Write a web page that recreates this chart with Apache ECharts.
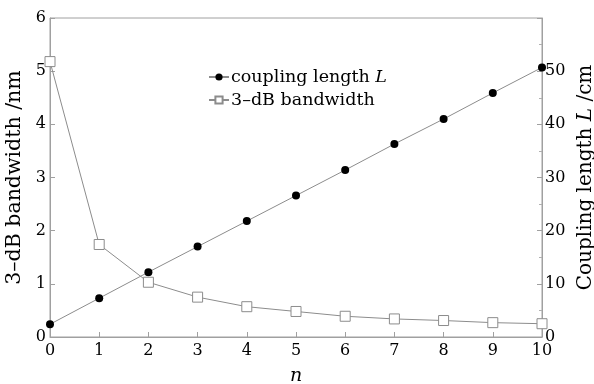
<!DOCTYPE html>
<html>
<head>
<meta charset="utf-8">
<script src="https://cdn.jsdelivr.net/npm/echarts@6/dist/echarts.min.js"></script>
<style>
  html, body { margin: 0; padding: 0; background: #fff; }
  #chart { width: 594px; height: 384px; }
</style>
</head>
<body>
<div id="chart"></div>
<script>
var nValues = [0, 1, 2, 3, 4, 5, 6, 7, 8, 9, 10];
var couplingLength = [2.4, 7.3, 12.2, 17.0, 21.8, 26.6, 31.4, 36.3, 41.0, 45.9, 50.7];
var bandwidth = [5.18, 1.74, 1.03, 0.75, 0.57, 0.48, 0.39, 0.34, 0.31, 0.27, 0.25];

var serif = 'DejaVu Serif';
var gray = '#8c8c8c';

function pairs(ys) {
    return nValues.map(function (x, i) { return [x, ys[i]]; });
}

var chart = echarts.init(document.getElementById('chart'));
var option = {
    animation: false,
    textStyle: { fontFamily: serif, color: '#000' },
    grid: {
        left: 50, right: 52, top: 18, bottom: 47,
        outerBoundsMode: 'none',
        show: true, borderColor: '#a0a0a0', borderWidth: 1
    },
    legend: {
        left: 203, top: 63,
        orient: 'vertical',
        itemWidth: 20, itemHeight: 9, itemGap: 5,
        textStyle: {
            fontFamily: serif, fontSize: 17.5, color: '#000', padding: [0, 0, 0, -3],
            rich: { i: { fontFamily: serif, fontSize: 17.5, fontStyle: 'italic' } }
        },
        formatter: function (name) {
            return name === 'coupling length L' ? 'coupling length {i|L}' : name;
        },
        data: ['coupling length L', '3–dB bandwidth']
    },
    xAxis: {
        type: 'value', min: 0, max: 10, interval: 1,
        name: 'n', nameLocation: 'middle', nameGap: 30,
        nameTextStyle: { fontFamily: serif, fontSize: 19, fontStyle: 'italic', color: '#000' },
        axisLine: { lineStyle: { color: '#a0a0a0' } },
        axisTick: { inside: true, length: 5, lineStyle: { color: '#a0a0a0' } },
        axisLabel: { fontFamily: serif, fontSize: 16, color: '#000', margin: 6 },
        splitLine: { show: false }
    },
    yAxis: [
        {
            type: 'value', min: 0, max: 6, interval: 1,
            name: '3–dB bandwidth /nm', nameLocation: 'middle', nameGap: 14,
            nameTextStyle: { fontFamily: serif, fontSize: 20.5, color: '#000' },
            axisLine: { show: true, lineStyle: { color: '#a0a0a0' } },
            axisTick: { show: true, inside: true, length: 5, lineStyle: { color: '#a0a0a0' } },
            axisLabel: { fontFamily: serif, fontSize: 16, color: '#000', margin: 4 },
            splitLine: { show: false }
        },
        {
            type: 'value', min: 0, max: 60, interval: 10,
            position: 'right',
            name: 'Coupling length {i|L} /cm', nameLocation: 'middle', nameGap: 34, nameRotate: 90,
            nameTextStyle: {
                fontFamily: serif, fontSize: 20, color: '#000',
                rich: { i: { fontFamily: serif, fontSize: 20, fontStyle: 'italic' } }
            },
            axisLine: { show: true, lineStyle: { color: '#a0a0a0' } },
            axisTick: { show: true, inside: true, length: 5, lineStyle: { color: '#a0a0a0' } },
            minorTick: { show: true, splitNumber: 2, length: 3, lineStyle: { color: '#b0b0b0' } },
            axisLabel: {
                fontFamily: serif, fontSize: 16, color: '#000', margin: 3,
                formatter: function (v) { return v >= 60 ? '' : v; }
            },
            splitLine: { show: false }
        }
    ],
    series: [
        {
            name: 'coupling length L',
            type: 'line', yAxisIndex: 1,
            data: pairs(couplingLength),
            symbol: 'circle', symbolSize: 8,
            itemStyle: { color: '#000' },
            lineStyle: { color: gray, width: 1 }
        },
        {
            name: '3–dB bandwidth',
            type: 'line', yAxisIndex: 0,
            data: pairs(bandwidth),
            symbol: 'rect', symbolSize: 10,
            itemStyle: { color: '#fff', borderColor: gray, borderWidth: 1 },
            lineStyle: { color: gray, width: 1 }
        }
    ]
};
chart.setOption(option);
</script>
</body>
</html>
